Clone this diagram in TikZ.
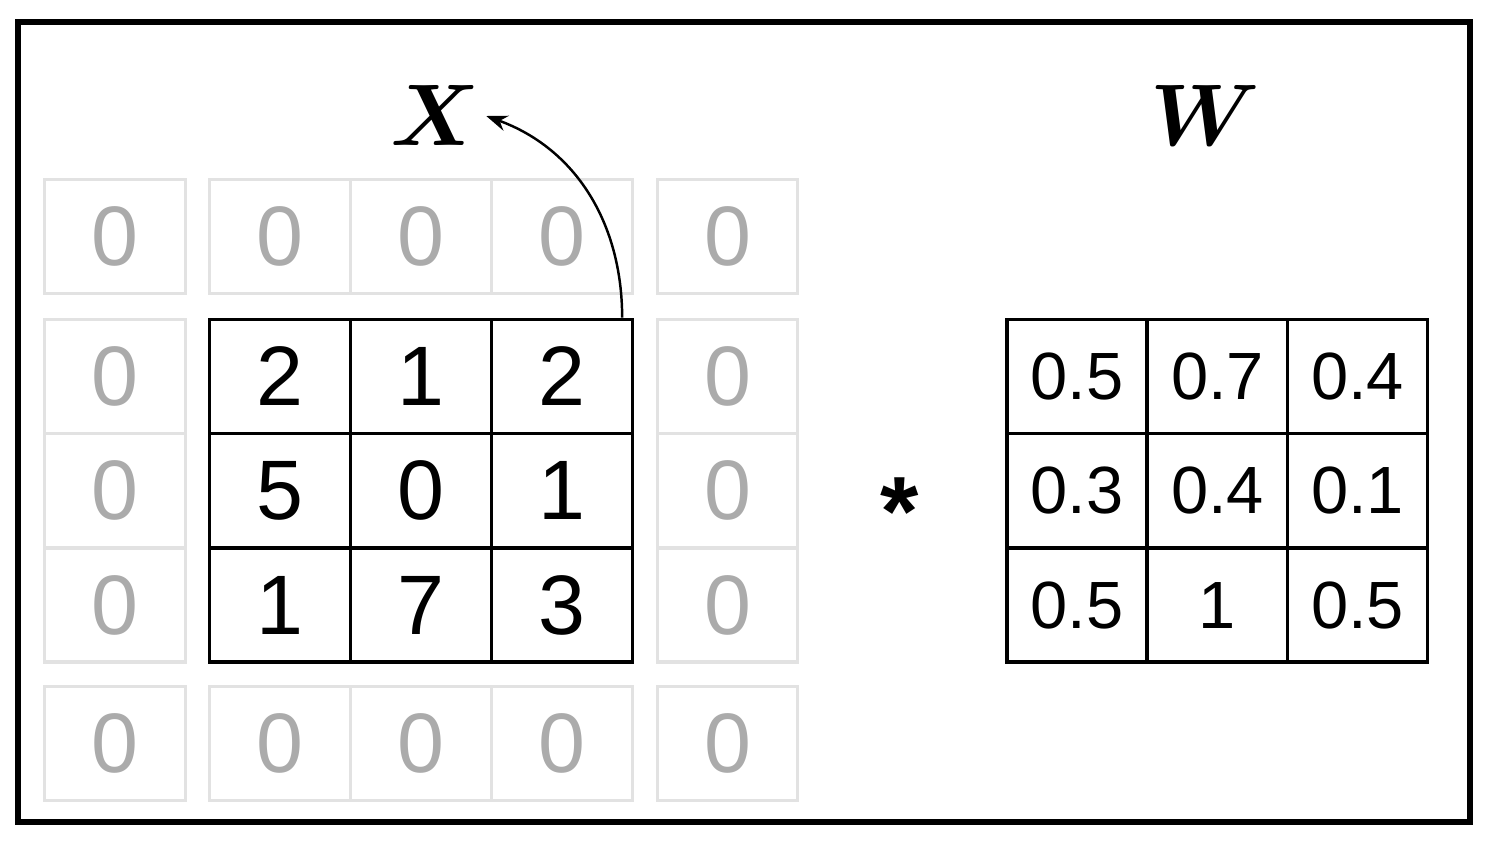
\documentclass[tikz,border=0pt]{standalone}
\usepackage{fontspec}
\setmainfont{Liberation Sans}
\usetikzlibrary{arrows.meta}
\definecolor{padline}{HTML}{E2E2E2}
\definecolor{padtext}{HTML}{ABABAB}
\tikzset{
  cell/.style = {draw, line width=1pt, minimum width=1.407cm, minimum height=1.14cm,
                 inner sep=0pt, font=\fontsize{24}{26}\selectfont},
  padcell/.style = {cell, draw=padline, line width=0.9pt, text=padtext},
  wcell/.style = {cell, minimum width=1.4cm, font=\fontsize{19}{21}\selectfont},
  lbl/.style = {font=\fontsize{29}{30}\selectfont\boldmath},
}
\begin{document}
\begin{tikzpicture}[x=0.01cm, y=0.01cm]
  \useasboundingbox (0,0) rectangle (1492,844);
  \draw[line width=1.5pt] (18,22) rectangle (1470,822);

  % zero padding
  \node[padcell] at ( 115,607.5) (p11) {0};
  \node[padcell] at ( 280,607.5) (p12) {0};
  \node[padcell] at ( 421,607.5) (p13) {0};
  \node[padcell] at ( 562,607.5) (p14) {0};
  \node[padcell] at (727.5,607.5) (p15) {0};
  \node[padcell] at ( 115,467.5) (p21) {0};
  \node[padcell] at (727.5,467.5) (p25) {0};
  \node[padcell] at ( 115,353.5) (p31) {0};
  \node[padcell] at (727.5,353.5) (p35) {0};
  \node[padcell] at ( 115,239  ) (p41) {0};
  \node[padcell] at (727.5,239  ) (p45) {0};
  \node[padcell] at ( 115,100.5) (p51) {0};
  \node[padcell] at ( 280,100.5) (p52) {0};
  \node[padcell] at ( 421,100.5) (p53) {0};
  \node[padcell] at ( 562,100.5) (p54) {0};
  \node[padcell] at (727.5,100.5) (p55) {0};

  % input X
  \node[cell] at (280,467.5) (x11) {2};
  \node[cell] at (421,467.5) (x12) {1};
  \node[cell] at (562,467.5) (x13) {2};
  \node[cell] at (280,353.5) (x21) {5};
  \node[cell] at (421,353.5) (x22) {0};
  \node[cell] at (562,353.5) (x23) {1};
  \node[cell] at (280,239  ) (x31) {1};
  \node[cell] at (421,239  ) (x32) {7};
  \node[cell] at (562,239  ) (x33) {3};

  % kernel W
  \node[wcell] at (1077  ,467.5) (w11) {0.5};
  \node[wcell] at (1217.5,467.5) (w12) {0.7};
  \node[wcell] at (1357.5,467.5) (w13) {0.4};
  \node[wcell] at (1077  ,353.5) (w21) {0.3};
  \node[wcell] at (1217.5,353.5) (w22) {0.4};
  \node[wcell] at (1357.5,353.5) (w23) {0.1};
  \node[wcell] at (1077  ,239  ) (w31) {0.5};
  \node[wcell] at (1217.5,239  ) (w32) {1};
  \node[wcell] at (1357.5,239  ) (w33) {0.5};

  \node[lbl] at (435,729) (lblX) {$X$};
  \node[lbl] at (1205,729) (lblW) {$W$};
  \node[font=\fontsize{28}{28}\selectfont\bfseries] at (900,332) (conv) {*};

  \draw[line width=0.7pt, -{Stealth[length=6pt,width=4.5pt]}]
    ([xshift=-0.12cm]x13.north east) to[out=90, in=-20] ([xshift=-0.06cm, yshift=-0.01cm]lblX.east);
\end{tikzpicture}
\end{document}
